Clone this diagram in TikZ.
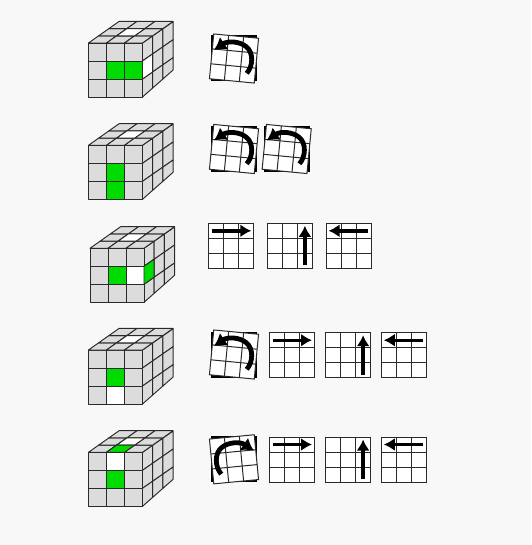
\documentclass[tikz,border=0pt]{standalone}
\usetikzlibrary{arrows.meta}
\definecolor{pagebg}{HTML}{F8F8F8}
\definecolor{cubegrey}{HTML}{DCDCDC}
\definecolor{cubegreen}{HTML}{00DC00}
\definecolor{cubeline}{HTML}{2A2A2A}
\tikzset{
    facelet/.style={draw=cubeline, line width=0.95pt, line join=round, fill=cubegrey},
    greencell/.style={facelet, fill=cubegreen},
    whitecell/.style={facelet, fill=white},
    gridline/.style={draw=cubeline, line width=1pt},
    movearrow/.style={-{Latex[length=11pt, width=13pt]}, line width=3.4pt},
    turnarrow/.style={-{Latex[length=12pt, width=15pt]}, line width=4.8pt}
}
% cells of the three visible faces, #1 column, #2 row, #3 style
\newcommand*{\frontcell}[3]{\draw[#3] ({#1*18}, {#2*18}) rectangle ({(#1+1)*18}, {(#2+1)*18});}
\newcommand*{\topcell}[3]{\draw[#3] ({#1*18+#2*10.2}, {-#2*7.2}) -- ({(#1+1)*18+#2*10.2}, {-#2*7.2})
    -- ({(#1+1)*18+(#2+1)*10.2}, {-(#2+1)*7.2}) -- ({#1*18+(#2+1)*10.2}, {-(#2+1)*7.2}) -- cycle;}
% only the lowest edge of the right face runs steeper than the others
\newcommand*{\rightcell}[3]{\draw[#3] ({54+#1*10.2}, {-#1*7.1+#2*18}) -- ({54+(#1+1)*10.2}, {-(#1+1)*7.1+#2*18})
    -- ({54+(#1+1)*10.2}, {-(#1+1)*7.1+(#2+1)*18-(#2==2)*1.9*(#1+1)}) -- ({54+#1*10.2}, {-#1*7.1+(#2+1)*18-(#2==2)*1.9*#1}) -- cycle;}
\newcommand*{\basecube}{
    \foreach \i in {0,1,2} {
        \foreach \j in {0,1,2} {
            \frontcell{\i}{\j}{facelet}
            \rightcell{\i}{\j}{facelet}
            \topcell{\i}{\j}{facelet}
        }
    }
    \topcell{1}{1}{whitecell}
}
\newcommand*{\movegrid}{
    \draw[gridline, fill=white] (0, 0) rectangle (45, 45);
    \foreach \k in {15, 30} {
        \draw[gridline] (\k, 0) -- (\k, 45);
        \draw[gridline] (0, \k) -- (45, \k);
    }
}
% #3 is 1 for the anticlockwise turn and -1 for the clockwise one
\newcommand*{\turnicon}[3]{
    \begin{scope}[shift={(#1, #2)}, xscale=#3]
        \fill[black] (-23, -23) rectangle (23, 23);
        \begin{scope}[rotate=-5.5, shift={(-22.5, -22.5)}]
            \movegrid
        \end{scope}
        \draw[turnarrow] (12.7, 14.8) .. controls (19, 8) and (20, -6) .. (12, -12)
            .. controls (6, -17) and (-6, -18) .. (-20, -8.5);
    \end{scope}
}

\begin{document}
\begin{tikzpicture}[x=1pt, y=-1pt]
    \useasboundingbox[fill=pagebg] (0, 0) rectangle (531, 545);

    % first row
    \begin{scope}[shift={(88.5, 43)}]
        \basecube
        \frontcell{1}{1}{greencell}
        \frontcell{2}{1}{greencell}
        \rightcell{0}{1}{whitecell}
    \end{scope}
    \turnicon{234}{58.5}{1}

    % second row
    \begin{scope}[shift={(88.5, 145.3)}]
        \basecube
        \frontcell{1}{1}{greencell}
        \frontcell{1}{2}{greencell}
    \end{scope}
    \turnicon{234}{149}{1}
    \turnicon{286.7}{149}{1}

    % third row
    \begin{scope}[shift={(90, 248.3)}]
        \basecube
        \frontcell{1}{1}{greencell}
        \frontcell{2}{1}{whitecell}
        \rightcell{0}{1}{greencell}
    \end{scope}
    \begin{scope}[shift={(208.8, 223.3)}]
        \movegrid
        \draw[movearrow] (3, 7.5) -- (42.5, 7.5);
    \end{scope}
    \begin{scope}[shift={(267.4, 223.3)}]
        \movegrid
        \draw[movearrow] (37.5, 42) -- (37.5, 2.5);
    \end{scope}
    \begin{scope}[shift={(326, 223.3)}]
        \movegrid
        \draw[movearrow] (42, 7.5) -- (2.5, 7.5);
    \end{scope}

    % fourth row
    \begin{scope}[shift={(88.5, 350)}]
        \basecube
        \frontcell{1}{1}{greencell}
        \frontcell{1}{2}{whitecell}
    \end{scope}
    \turnicon{234}{354.5}{1}
    \begin{scope}[shift={(269.5, 332.7)}]
        \movegrid
        \draw[movearrow] (3, 7.5) -- (42.5, 7.5);
    \end{scope}
    \begin{scope}[shift={(325.6, 332.7)}]
        \movegrid
        \draw[movearrow] (37.5, 42) -- (37.5, 2.5);
    \end{scope}
    \begin{scope}[shift={(381.3, 332.7)}]
        \movegrid
        \draw[movearrow] (42, 7.5) -- (2.5, 7.5);
    \end{scope}

    % fifth row
    \begin{scope}[shift={(88.5, 452.3)}]
        \basecube
        \frontcell{1}{0}{whitecell}
        \frontcell{1}{1}{greencell}
        \topcell{1}{0}{greencell}
    \end{scope}
    \turnicon{234}{459.3}{-1}
    \begin{scope}[shift={(269.5, 437)}]
        \movegrid
        \draw[movearrow] (3, 7.5) -- (42.5, 7.5);
    \end{scope}
    \begin{scope}[shift={(325.6, 437)}]
        \movegrid
        \draw[movearrow] (37.5, 42) -- (37.5, 2.5);
    \end{scope}
    \begin{scope}[shift={(381.3, 437)}]
        \movegrid
        \draw[movearrow] (42, 7.5) -- (2.5, 7.5);
    \end{scope}
\end{tikzpicture}
\end{document}
